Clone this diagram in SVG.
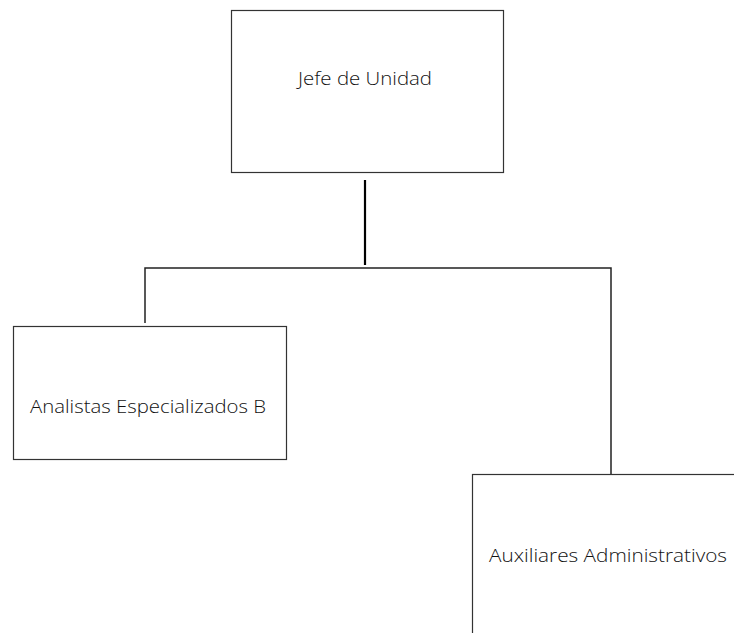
<svg xmlns="http://www.w3.org/2000/svg" width="734" height="633" viewBox="0 0 734 633">
<style>
.box{fill:#fff;stroke:#333;stroke-width:1.2}
.lbl{font-family:"Open Sans","Liberation Sans",sans-serif;font-weight:300;font-size:19px;fill:#111}
.con{fill:none;stroke:#222;stroke-width:1.5}
</style>
<rect width="734" height="633" fill="#fff"/>
<g id="connectors">
<line class="con" x1="365" y1="180" x2="365" y2="265" style="stroke:#000;stroke-width:2.2"/>
<polyline class="con" points="145,323 145,268 611,268 611,474"/>
</g>
<g id="jefe">
<rect class="box" x="231.5" y="10.5" width="272" height="162"/>
<text class="lbl" x="298" y="85" textLength="134" lengthAdjust="spacingAndGlyphs">Jefe de Unidad</text>
</g>
<g id="analistas">
<rect class="box" x="13.5" y="326.5" width="273" height="133"/>
<text class="lbl" x="30" y="413" textLength="236" lengthAdjust="spacingAndGlyphs">Analistas Especializados B</text>
</g>
<g id="auxiliares">
<rect class="box" x="472.5" y="474.5" width="280" height="180"/>
<text class="lbl" x="489" y="562" textLength="238" lengthAdjust="spacingAndGlyphs">Auxiliares Administrativos</text>
</g>
</svg>
